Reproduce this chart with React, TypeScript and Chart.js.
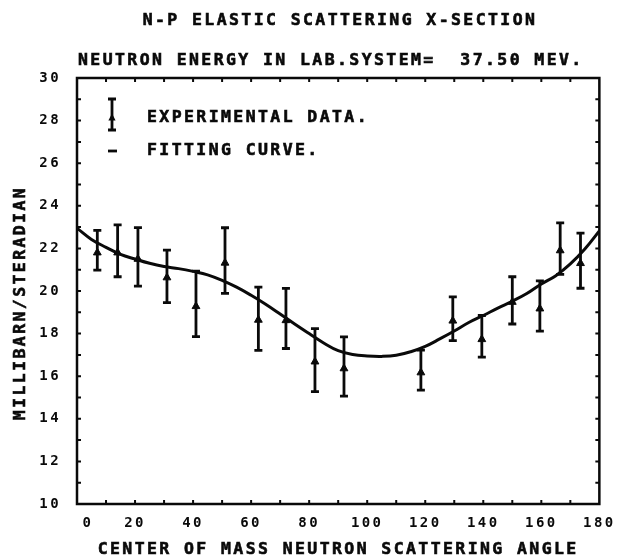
import React, { useEffect, useRef } from "react";
import { Chart, registerables } from "chart.js";

Chart.register(...registerables);

// ---------- data ----------
const angles = [7, 14, 21, 31, 41, 51, 62.5, 72, 82, 92, 118.5, 129.5, 139.5, 150, 159.5, 166.5, 173.5];
const crossSection = [21.8, 21.8, 21.5, 20.63, 19.28, 21.32, 18.64, 18.62, 16.68, 16.36, 16.17, 18.6, 17.73, 19.48, 19.17, 21.9, 21.3];
const errorHigh = [22.85, 23.1, 22.98, 21.92, 20.93, 22.97, 20.18, 20.12, 18.23, 17.85, 17.22, 19.72, 18.85, 20.67, 20.48, 23.2, 22.72];
const errorLow = [20.98, 20.67, 20.23, 19.45, 17.86, 19.89, 17.21, 17.3, 15.28, 15.06, 15.35, 17.67, 16.9, 18.45, 18.12, 20.78, 20.13];

const fitAngles = [0, 5, 10, 15, 20, 25, 30, 35, 40, 45, 50, 55, 60, 65, 70, 75, 80, 85, 90, 95, 100, 105, 110, 115, 120, 125, 130, 135, 140, 145, 150, 155, 160, 165, 170, 175, 180];
const fitValues = [22.95, 22.42, 22.05, 21.72, 21.5, 21.3, 21.15, 21.05, 20.92, 20.76, 20.5, 20.18, 19.8, 19.38, 18.92, 18.45, 18.0, 17.56, 17.2, 17.02, 16.95, 16.93, 16.98, 17.15, 17.4, 17.75, 18.12, 18.52, 18.85, 19.2, 19.52, 19.88, 20.33, 20.72, 21.27, 21.97, 22.82];

const xMin = 0;
const xMax = 180;
const xStep = 20;
const xMinorStep = 10;
const yMin = 10;
const yMax = 30;
const yStep = 2;
const yMinorStep = 1;

const titleText = "N-P ELASTIC SCATTERING X-SECTION";
const subtitleText = "NEUTRON ENERGY IN LAB.SYSTEM=  37.50 MEV.";
const xAxisTitle = "CENTER OF MASS NEUTRON SCATTERING ANGLE";
const yAxisTitle = "MILLIBARN/STERADIAN";
const legendLabels = ["EXPERIMENTAL DATA.", "FITTING CURVE."];

// ---------- style ----------
const INK = "#0a0a0a";
const FAMILY = '"DejaVu Sans Mono", monospace';
const BIG_FONT = `bold 16.5px ${FAMILY}`;
const SPACING = "2.4px";

function triangle(ctx: CanvasRenderingContext2D, cx: number, cy: number, r: number) {
  ctx.beginPath();
  ctx.moveTo(cx, cy - r * 1.1);
  ctx.lineTo(cx + r * 0.9, cy + r * 0.6);
  ctx.lineTo(cx - r * 0.9, cy + r * 0.6);
  ctx.closePath();
  ctx.fill();
}

function errorBar(ctx: CanvasRenderingContext2D, px: number, top: number, bot: number) {
  ctx.beginPath();
  ctx.moveTo(px, top);
  ctx.lineTo(px, bot);
  ctx.moveTo(px - 4, top);
  ctx.lineTo(px + 4, top);
  ctx.moveTo(px - 4, bot);
  ctx.lineTo(px + 4, bot);
  ctx.stroke();
}

function heavyText(ctx: CanvasRenderingContext2D, text: string, x: number, y: number) {
  ctx.fillText(text, x, y);
  ctx.strokeText(text, x, y);
}

const decorPlugin = {
  id: "decor",
  beforeDraw(chart: any) {
    chart.ctx.letterSpacing = SPACING;
  },
  beforeDatasetsDraw(chart: any) {
    const { ctx, chartArea: a, scales } = chart;
    const x = scales.x;
    const y = scales.y;
    ctx.save();
    ctx.strokeStyle = INK;
    ctx.lineWidth = 2.5;
    ctx.strokeRect(a.left, a.top, a.right - a.left, a.bottom - a.top);
    ctx.lineWidth = 2;
    ctx.beginPath();
    for (let v = xMin + xMinorStep; v < xMax; v += xMinorStep) {
      const px = x.getPixelForValue(v);
      ctx.moveTo(px, a.bottom);
      ctx.lineTo(px, a.bottom - 4);
      ctx.moveTo(px, a.top);
      ctx.lineTo(px, a.top + 4);
    }
    for (let v = yMin + yMinorStep; v < yMax; v += yMinorStep) {
      const py = y.getPixelForValue(v);
      ctx.moveTo(a.left, py);
      ctx.lineTo(a.left + 4, py);
      ctx.moveTo(a.right, py);
      ctx.lineTo(a.right - 4, py);
    }
    ctx.stroke();
    ctx.restore();
  },
  afterDatasetsDraw(chart: any) {
    const { ctx, scales } = chart;
    const x = scales.x;
    const y = scales.y;
    ctx.save();
    ctx.strokeStyle = INK;
    ctx.lineWidth = 2.8;
    for (let i = 0; i < angles.length; i++) {
      const px = x.getPixelForValue(angles[i]);
      errorBar(ctx, px, y.getPixelForValue(errorHigh[i]), y.getPixelForValue(errorLow[i]));
    }
    ctx.restore();
  },
  afterDraw(chart: any) {
    const { ctx, chartArea: a } = chart;
    ctx.save();
    ctx.letterSpacing = SPACING;
    ctx.fillStyle = INK;
    ctx.strokeStyle = INK;
    ctx.font = BIG_FONT;
    ctx.textBaseline = "middle";
    ctx.lineWidth = 0.6;

    // titles
    ctx.textAlign = "center";
    heavyText(ctx, titleText, 340, 21);
    ctx.textAlign = "left";
    heavyText(ctx, subtitleText, a.left + 1, 61);
    ctx.textAlign = "center";
    heavyText(ctx, xAxisTitle, (a.left + a.right) / 2, 550);

    ctx.save();
    ctx.translate(21, 303);
    ctx.rotate(-Math.PI / 2);
    ctx.textAlign = "center";
    heavyText(ctx, yAxisTitle, 0, 0);
    ctx.restore();

    // legend
    ctx.textAlign = "left";
    heavyText(ctx, legendLabels[0], 147, 118);
    heavyText(ctx, legendLabels[1], 147, 151);
    ctx.lineWidth = 2.8;
    const lx = 112;
    errorBar(ctx, lx, 99, 130);
    triangle(ctx, lx, 118, 4);
    ctx.beginPath();
    ctx.moveTo(lx - 4, 151);
    ctx.lineTo(lx + 5, 151);
    ctx.stroke();
    ctx.restore();
  },
};

export default function App() {
  const canvasRef = useRef<HTMLCanvasElement | null>(null);

  useEffect(() => {
    const canvas = canvasRef.current;
    if (!canvas) return;
    const tickFont = { family: FAMILY, size: 14, weight: "bold" as const };

    const chart = new Chart(canvas, {
      type: "scatter",
      data: {
        datasets: [
          {
            type: "line",
            label: legendLabels[1],
            data: fitAngles.map((a, i) => ({ x: a, y: fitValues[i] })),
            borderColor: INK,
            borderWidth: 3,
            pointRadius: 0,
            tension: 0.4,
            fill: false,
          } as any,
          {
            type: "scatter",
            label: legendLabels[0],
            data: angles.map((a, i) => ({ x: a, y: crossSection[i] })),
            pointStyle: "triangle",
            pointRadius: 4.5,
            backgroundColor: INK,
            borderColor: INK,
            borderWidth: 1,
          },
        ],
      },
      options: {
        responsive: false,
        maintainAspectRatio: false,
        animation: false,
        events: [],
        layout: { padding: { top: 78, right: 22, bottom: 0, left: 0 } },
        plugins: {
          legend: { display: false },
          title: { display: false },
          tooltip: { enabled: false },
        },
        scales: {
          x: {
            type: "linear",
            min: xMin,
            max: xMax,
            grid: { display: false, drawTicks: false },
            border: { display: false },
            ticks: {
              stepSize: xStep,
              padding: 11,
              color: INK,
              font: tickFont,
              maxRotation: 0,
              autoSkip: false,
              callback: (v: any) => (Number(v) === 0 ? "  0" : String(v)),
            },
            afterFit: (s: any) => {
              s.height = 56;
            },
          },
          y: {
            type: "linear",
            min: yMin,
            max: yMax,
            grid: { display: false, drawTicks: false },
            border: { display: false },
            ticks: {
              stepSize: yStep,
              padding: 16,
              color: INK,
              font: tickFont,
              callback: (v: any) => String(v),
            },
            afterFit: (s: any) => {
              s.width = 77;
            },
          },
        },
      },
      plugins: [decorPlugin],
    });
    return () => chart.destroy();
  }, []);

  return (
    <div style={{ position: "fixed", left: 0, top: 0, width: 623, height: 560, background: "#fff" }}>
      <canvas ref={canvasRef} width={623} height={560} style={{ display: "block" }} />
    </div>
  );
}
